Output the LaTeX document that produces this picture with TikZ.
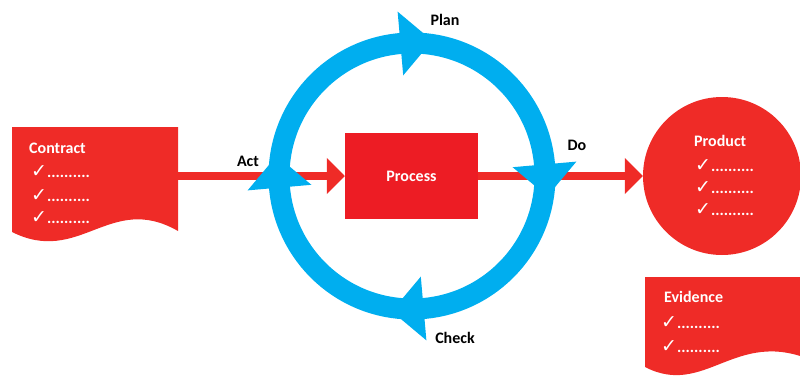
\documentclass[tikz,border=0pt]{standalone}
\usepackage{fontspec}
\setmainfont{Carlito}
\newfontfamily\checkfont{DejaVu Sans}
\usetikzlibrary{arrows.meta}
\definecolor{docred}{HTML}{EF2B27}
\definecolor{boxred}{HTML}{ED1C24}
\definecolor{cycleblue}{HTML}{00AEEF}
\newcommand{\tickline}{{\checkfont\bfseries\fontsize{19}{20}\selectfont\char"2713}..........}

\begin{document}
\begin{tikzpicture}[x=1pt,y=1pt,font=\bfseries\fontsize{16}{18}\selectfont,
	pdca/.style={text=black,inner sep=0pt},
	listtext/.style={text=white,anchor=west,inner sep=0pt},
	flow/.style={line width=8pt,color=docred,-{Triangle[length=18pt,width=35pt]}}]
	\clip (0,0) rectangle (800,376);

	% contract sheet
	\fill[docred] (12,144) -- (12,249) -- (178,249) -- (178,145) .. controls (110,184) and (80,110) .. (12,144) -- cycle;
	\coordinate (contract) at (178,200);
	\node[listtext] at (29,228) (contracttitle) {Contract};
	\node[listtext] at (31,204) (contract1) {\tickline};
	\node[listtext] at (31,180) (contract2) {\tickline};
	\node[listtext] at (31,158) (contract3) {\tickline};

	% evidence sheet
	\fill[docred] (645,9) -- (645,99) -- (811,99) -- (811,16) .. controls (735,48) and (705,-22) .. (645,9) -- cycle;
	\node[listtext] at (664,79) (evidencetitle) {Evidence};
	\node[listtext] at (661,53) (evidence1) {\tickline};
	\node[listtext] at (661,29) (evidence2) {\tickline};

	% process and product
	\node[fill=boxred,minimum width=133pt,minimum height=86pt,inner sep=0pt,text=white] at (411.5,200) (process) {Process};
	\node[circle,fill=docred,minimum size=158pt,inner sep=0pt] at (722,200) (product) {};
	\node[listtext] at (694,235) (producttitle) {Product};
	\node[listtext] at (695,210) (product1) {\tickline};
	\node[listtext] at (695,188) (product2) {\tickline};
	\node[listtext] at (695,166) (product3) {\tickline};

	\draw[flow] (contract) -- (process);
	\draw[flow] (process) -- (product);

	% cycle
	\node[circle,draw=cycleblue,line width=21pt,minimum size=266pt,inner sep=0pt] at (412,200) (ring) {};
	\foreach \a in {5,95,185,275}
		\fill[cycleblue,shift={(ring.center)},rotate=\a] (101,0) -- (165,0) -- (133,-32) -- cycle;

	\node[pdca] at (445,356) (plan) {Plan};
	\node[pdca] at (577,231) (do) {Do};
	\node[pdca] at (455,38) (check) {Check};
	\node[pdca] at (248,215) (act) {Act};
\end{tikzpicture}
\end{document}
